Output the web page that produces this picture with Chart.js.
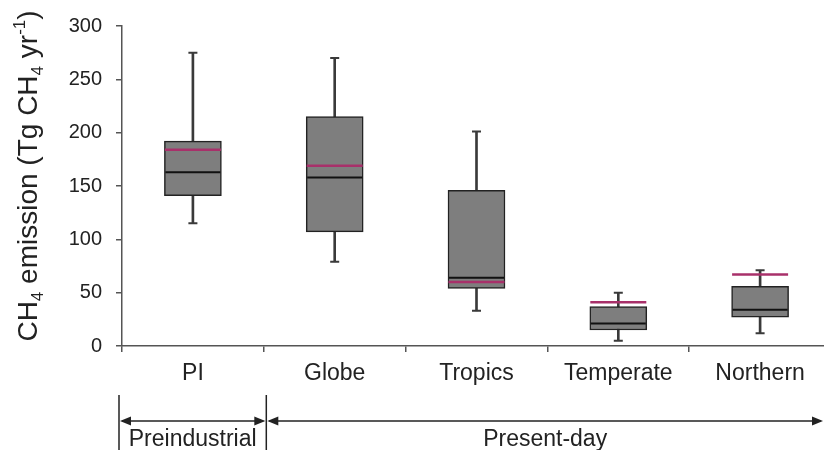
<!DOCTYPE html>
<html>
<head>
<meta charset="utf-8">
<title>CH4 emission box plot</title>
<script src="https://cdn.jsdelivr.net/npm/chart.js@4.4.1/dist/chart.umd.min.js"></script>
<style>
  html, body { margin: 0; padding: 0; background: #fff; overflow: hidden; }
  #wrap { width: 832px; height: 450px; }
</style>
</head>
<body>
<div id="wrap"><canvas id="box-chart" width="832" height="450"></canvas></div>
<script>
// Box plot data
const categories = ['PI', 'Globe', 'Tropics', 'Temperate', 'Northern'];
const whiskerLow = [115, 79, 33, 5, 12];
const quartile1 = [141, 107, 54, 15, 27];
const medians = [163, 158, 64, 21, 34];
const means = [184, 169, 60, 41, 67];
const quartile3 = [192, 215, 146, 37, 56];
const whiskerHigh = [275, 270, 201, 50, 71];
const yTicks = [0, 50, 100, 150, 200, 250, 300];

const FONT = "'Liberation Sans', Arial, sans-serif";
const ink = '#222222';
const axisColor = '#555555';

// y-axis title with sub/superscripts, drawn rotated
const titleParts = [
  { t: 'CH' }, { t: '4', sub: true }, { t: ' emission (Tg CH' }, { t: '4', sub: true },
  { t: ' yr' }, { t: '-1', sup: true }, { t: ')' }
];

function drawRotatedTitle(ctx, cx, cy, size) {
  const small = Math.round(size * 0.6);
  let total = 0;
  titleParts.forEach(function(p) {
    ctx.font = (p.sub || p.sup ? small : size) + 'px ' + FONT;
    p.w = ctx.measureText(p.t).width;
    total += p.w;
  });
  ctx.save();
  ctx.translate(cx, cy);
  ctx.rotate(-Math.PI / 2);
  ctx.fillStyle = ink;
  ctx.textBaseline = 'alphabetic';
  ctx.textAlign = 'left';
  const base = size * 0.36;
  let x = -total / 2;
  titleParts.forEach(function(p) {
    ctx.font = (p.sub || p.sup ? small : size) + 'px ' + FONT;
    let y = base;
    if (p.sub) y += size * 0.22;
    if (p.sup) y -= size * 0.42;
    ctx.fillText(p.t, x, y);
    x += p.w;
  });
  ctx.restore();
}

function drawArrow(ctx, x1, x2, y) {
  const hl = 11, hw = 4.5;
  ctx.beginPath();
  ctx.moveTo(x1 + 2, y);
  ctx.lineTo(x2 - 2, y);
  ctx.stroke();
  ctx.beginPath();
  ctx.moveTo(x1, y);
  ctx.lineTo(x1 + hl, y - hw);
  ctx.lineTo(x1 + hl, y + hw);
  ctx.closePath();
  ctx.fill();
  ctx.beginPath();
  ctx.moveTo(x2, y);
  ctx.lineTo(x2 - hl, y - hw);
  ctx.lineTo(x2 - hl, y + hw);
  ctx.closePath();
  ctx.fill();
}

const annotations = {
  id: 'periodAnnotations',
  afterDraw: function(chart) {
    const ctx = chart.ctx;
    const xs = chart.scales.x;

    drawRotatedTitle(ctx, 27, 176, 28);

    const xLeft = xs.left - 3;
    const xMid = (xs.getPixelForValue(0) + xs.getPixelForValue(1)) / 2 + 2.5;
    const xRight = 823;
    const yArrow = 421;

    ctx.save();
    ctx.strokeStyle = ink;
    ctx.fillStyle = ink;
    ctx.lineWidth = 1.5;
    [xLeft, xMid].forEach(function(x) {
      ctx.beginPath();
      ctx.moveTo(x, 395);
      ctx.lineTo(x, 450);
      ctx.stroke();
    });
    drawArrow(ctx, xLeft + 1, xMid - 1, yArrow);
    drawArrow(ctx, xMid + 1, xRight, yArrow);

    ctx.font = '23px ' + FONT;
    ctx.textAlign = 'center';
    ctx.textBaseline = 'alphabetic';
    ctx.fillText('Preindustrial', (xLeft + xMid) / 2, 446);
    ctx.fillText('Present-day', (xMid + 824) / 2, 446);
    ctx.restore();
  }
};

new Chart(document.getElementById('box-chart'), {
  type: 'bar',
  data: {
    labels: categories,
    datasets: [
      {
        label: 'Whisker',
        data: whiskerLow.map(function(v, i) { return [v, whiskerHigh[i]]; }),
        backgroundColor: '#3a3a3a',
        barThickness: 2,
        grouped: false,
        order: 5
      },
      {
        label: 'Box',
        data: quartile1.map(function(v, i) { return [v, quartile3[i]]; }),
        backgroundColor: '#7e7e7e',
        borderColor: ink,
        borderWidth: 1.5,
        borderSkipped: false,
        barThickness: 57,
        grouped: false,
        order: 4
      },
      {
        type: 'line',
        label: 'Whisker low cap',
        data: whiskerLow,
        showLine: false,
        pointStyle: 'line',
        pointRadius: 4.5,
        pointBorderColor: '#3a3a3a',
        pointBorderWidth: 2,
        order: 3
      },
      {
        type: 'line',
        label: 'Whisker high cap',
        data: whiskerHigh,
        showLine: false,
        pointStyle: 'line',
        pointRadius: 4.5,
        pointBorderColor: '#3a3a3a',
        pointBorderWidth: 2,
        order: 3
      },
      {
        type: 'line',
        label: 'Median',
        data: medians,
        showLine: false,
        pointStyle: 'line',
        pointRadius: 27.5,
        pointBorderColor: '#111111',
        pointBorderWidth: 2,
        order: 2
      },
      {
        type: 'line',
        label: 'Mean',
        data: means,
        showLine: false,
        pointStyle: 'line',
        pointRadius: 28,
        pointBorderColor: '#a8306a',
        pointBorderWidth: 2.5,
        order: 1
      }
    ]
  },
  options: {
    responsive: false,
    animation: false,
    events: [],
    devicePixelRatio: 1,
    layout: {
      autoPadding: false,
      padding: { top: 22, right: 1, left: 0, bottom: 0 }
    },
    plugins: {
      legend: { display: false },
      tooltip: { enabled: false }
    },
    scales: {
      x: {
        offset: true,
        grid: {
          offset: true,
          drawOnChartArea: false,
          tickLength: 6,
          color: axisColor,
          lineWidth: 1.5
        },
        border: { display: true, color: axisColor, width: 1.5 },
        ticks: {
          color: ink,
          padding: 8,
          font: { family: FONT, size: 23 }
        },
        afterFit: function(scale) { scale.height = 104; }
      },
      y: {
        min: 0,
        max: 300,
        afterBuildTicks: function(scale) {
          scale.ticks = yTicks.map(function(v) { return { value: v }; });
        },
        grid: {
          drawOnChartArea: false,
          tickLength: 6,
          color: axisColor,
          lineWidth: 1.5
        },
        border: { display: true, color: axisColor, width: 1.5 },
        ticks: {
          color: ink,
          padding: 14,
          font: { family: FONT, size: 20 }
        },
        afterFit: function(scale) { scale.width = 122; }
      }
    }
  },
  plugins: [annotations]
});
</script>
</body>
</html>
